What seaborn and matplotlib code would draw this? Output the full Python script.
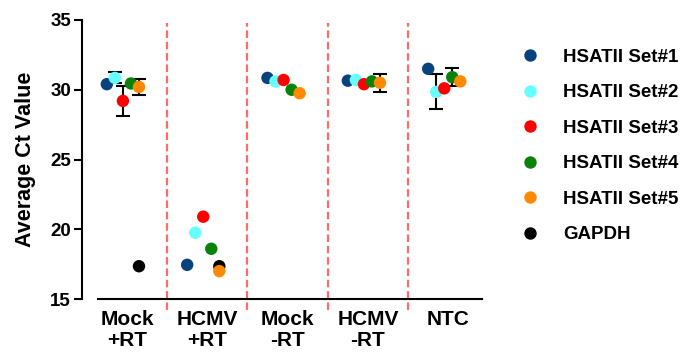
import numpy as np
import pandas as pd
import seaborn as sns
import matplotlib.pyplot as plt

groups = ['Mock\n+RT', 'HCMV\n+RT', 'Mock\n-RT', 'HCMV\n-RT', 'NTC']
series = ['HSATII Set#1', 'HSATII Set#2', 'HSATII Set#3', 'HSATII Set#4', 'HSATII Set#5', 'GAPDH']

set1 = [30.4, 17.45, 30.85, 30.65, 31.5]
set2 = [30.85, 19.75, 30.6, 30.7, 29.85]
set3 = [29.2, 20.9, 30.7, 30.4, 30.1]
set4 = [30.45, 18.6, 30.0, 30.6, 30.9]
set5 = [30.2, 17.0, 29.75, 30.5, 30.6]
gapdh = [17.35, 17.35, np.nan, np.nan, np.nan]

set1_err = [0, 0, 0, 0, 0]
set2_err = [0.4, 0, 0, 0, 1.25]
set3_err = [1.05, 0, 0, 0, 0]
set4_err = [0, 0, 0, 0, 0.65]
set5_err = [0.55, 0, 0, 0.65, 0]
gapdh_err = [0, 0, 0, 0, 0]

values = [set1, set2, set3, set4, set5, gapdh]
errors = [set1_err, set2_err, set3_err, set4_err, set5_err, gapdh_err]

colors = ['#08437f', '#66ffff', '#ff0000', '#0a820a', '#ff8a00', '#000000']
offsets = [-0.25, -0.15, -0.05, 0.05, 0.15, 0.15]

rows = []
for name, vals, errs, off in zip(series, values, errors, offsets):
    for i, (v, e) in enumerate(zip(vals, errs)):
        if not np.isnan(v):
            rows.append({'series': name, 'x': i + off, 'ct': v, 'err': e})
df = pd.DataFrame(rows)
# GAPDH first so it sits underneath the orange point
df = pd.concat([df[df.series == 'GAPDH'], df[df.series != 'GAPDH']])

sns.set_style('ticks')
plt.rcParams['font.family'] = ['Liberation Sans', 'DejaVu Sans']
plt.rcParams['font.weight'] = 'bold'
plt.rcParams['text.color'] = 'black'
plt.rcParams['axes.labelcolor'] = 'black'
plt.rcParams['xtick.color'] = 'black'
plt.rcParams['ytick.color'] = 'black'
plt.rcParams['axes.edgecolor'] = 'black'

fig = plt.figure(figsize=(6.83, 3.54), dpi=100)
ax = fig.add_axes([98 / 683, 55 / 354, 384 / 683, 279 / 354])

eb = df[df.err > 0]
ax.errorbar(eb.x, eb.ct, yerr=eb.err, fmt='none', ecolor='black', elinewidth=1.5,
            capsize=5, capthick=1.5, zorder=1)

sns.scatterplot(data=df, x='x', y='ct', hue='series', hue_order=series,
                palette=colors, s=80, edgecolor='none', linewidth=0, ax=ax,
                zorder=2, legend=True)

for i in range(len(groups) - 1):
    ax.plot([i + 0.5, i + 0.5], [-0.04, 0.99], transform=ax.get_xaxis_transform(),
            color='#ff6b6b', lw=1.6, ls=(0, (3.4, 1.7)), clip_on=False, zorder=0)

ax.set_xlim(-0.36, 4.42)
ax.set_ylim(15, 35)
ax.set_yticks([15, 20, 25, 30, 35])
ax.set_xticks(range(len(groups)))
ax.set_xticklabels(groups, fontsize=15, fontweight='bold', linespacing=1.15)
ax.tick_params(axis='x', length=0, pad=8)
ax.tick_params(axis='y', length=6, width=1.5, labelsize=13.5, pad=2)
for t in ax.get_yticklabels():
    t.set_fontweight('bold')
sns.despine(ax=ax)
ax.spines['left'].set_position(('outward', 11.5))
ax.spines['left'].set_linewidth(1.5)
ax.spines['bottom'].set_linewidth(1.5)
ax.set_xlabel('')
ax.set_ylabel('Average Ct Value', fontsize=15.5, fontweight='bold', labelpad=10)

handles, labels = ax.get_legend_handles_labels()
ax.legend_.remove()
fig.legend(handles, labels, loc='center left', bbox_to_anchor=(521 / 683, 1 - 146 / 354),
           frameon=False, prop={'size': 13.5, 'weight': 'bold'}, handlelength=1.0,
           handletextpad=1.25, labelspacing=0.98, borderpad=0, borderaxespad=0,
           markerscale=1.0)

fig.savefig('out.png', dpi=100)
